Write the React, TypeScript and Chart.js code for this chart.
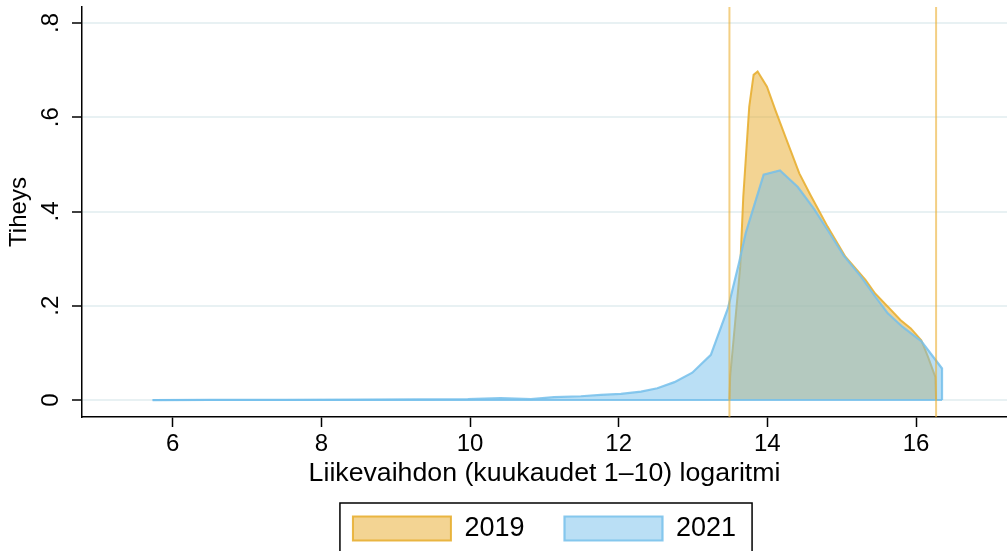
import React, { useEffect, useRef } from 'react';
import { Chart, registerables } from 'chart.js';

Chart.register(...registerables);

// ---- data ----
const SERIES_LABELS = ['2019', '2021'];

const X_2019 = [13.49, 13.5, 13.635, 13.676, 13.756, 13.815, 13.869, 13.995, 14.108, 14.242, 14.43, 14.58, 14.81, 15.05, 15.32, 15.45, 15.64, 15.79, 15.93, 16.07, 16.16, 16.26, 16.27];
const Y_2019 = [0, 0.05, 0.283, 0.431, 0.622, 0.69, 0.697, 0.665, 0.615, 0.559, 0.481, 0.435, 0.368, 0.304, 0.255, 0.226, 0.195, 0.17, 0.152, 0.127, 0.092, 0.049, 0];

const X_2021 = [5.73, 6.5, 7.5, 8.5, 9.3, 9.97, 10.41, 10.82, 11.13, 11.49, 11.76, 12.03, 12.3, 12.52, 12.75, 12.99, 13.24, 13.47, 13.62, 13.71, 13.95, 14.17, 14.41, 14.63, 14.83, 15.03, 15.26, 15.44, 15.62, 15.82, 16.07, 16.35, 16.35];
const Y_2021 = [0, 0.0003, 0.0005, 0.001, 0.0015, 0.002, 0.004, 0.002, 0.006, 0.008, 0.011, 0.013, 0.018, 0.025, 0.038, 0.058, 0.096, 0.195, 0.292, 0.355, 0.478, 0.487, 0.452, 0.405, 0.356, 0.306, 0.262, 0.222, 0.184, 0.155, 0.125, 0.067, 0];

const BASELINE_2021_X = [5.73, 16.35];
const VLINE_X = [13.49, 16.27];

const X_TICKS = [6, 8, 10, 12, 14, 16];
const Y_TICKS = [0, 0.2, 0.4, 0.6, 0.8];
const Y_TICK_LABELS = ['0', '.2', '.4', '.6', '.8'];
const X_MIN = 4.78;
const X_MAX = 17.224;
const Y_MIN = -0.036;
const Y_MAX = 0.834;

const X_TITLE = 'Liikevaihdon (kuukaudet 1–10) logaritmi';
const Y_TITLE = 'Tiheys';

const FONT = '"Liberation Sans", Arial, Helvetica, sans-serif';

const legendBorder = {
  id: 'legendBorder',
  afterDraw(chart: any) {
    const boxes = chart.legend && chart.legend.legendHitBoxes;
    if (!boxes || !boxes.length) return;
    const ctx = chart.ctx;
    const left = Math.min(...boxes.map((b: any) => b.left)) - 13;
    const right = Math.max(...boxes.map((b: any) => b.left + b.width)) + 16;
    const top = Math.min(...boxes.map((b: any) => b.top)) - 12;
    ctx.save();
    ctx.strokeStyle = '#000';
    ctx.lineWidth = 1.5;
    ctx.strokeRect(left, top, right - left, chart.height - top + 10);
    ctx.restore();
  },
};

export default function App() {
  const ref = useRef<HTMLCanvasElement>(null);

  useEffect(() => {
    if (!ref.current) return;
    const vlineData = (x: number) => [
      { x, y: Y_MIN },
      { x, y: Y_MAX },
    ];
    const chart = new Chart(ref.current, {
      type: 'line',
      data: {
        datasets: [
          {
            label: SERIES_LABELS[0],
            data: X_2019.map((x, i) => ({ x, y: Y_2019[i] })),
            borderColor: 'rgba(232,175,50,0.9)',
            backgroundColor: 'rgba(232,170,40,0.5)',
            borderWidth: 2,
            pointRadius: 0,
            tension: 0,
            fill: 'origin',
            order: 3,
          },
          {
            label: SERIES_LABELS[1],
            data: X_2021.map((x, i) => ({ x, y: Y_2021[i] })),
            borderColor: 'rgba(117,192,235,0.85)',
            backgroundColor: 'rgba(117,192,235,0.5)',
            borderWidth: 2.2,
            pointRadius: 0,
            tension: 0,
            fill: 'origin',
            order: 2,
          },
          {
            label: 'base',
            data: BASELINE_2021_X.map((x) => ({ x, y: 0 })),
            borderColor: 'rgba(117,192,235,0.85)',
            borderWidth: 2,
            pointRadius: 0,
            fill: false,
            order: 1,
          },
          ...VLINE_X.map((x) => ({
            label: 'vline',
            data: vlineData(x),
            borderColor: 'rgba(235,175,50,0.6)',
            borderWidth: 2,
            pointRadius: 0,
            fill: false,
            order: 0,
          })),
        ] as any,
      },
      options: {
        animation: false,
        responsive: false,
        maintainAspectRatio: false,
        events: [],
        layout: { padding: { top: 7, left: 0, right: 0, bottom: 0 } },
        plugins: {
          tooltip: { enabled: false },
          legend: {
            position: 'bottom',
            fullSize: false,
            maxHeight: 76,
            labels: {
              color: '#000',
              font: { family: FONT, size: 27 },
              boxWidth: 98,
              boxHeight: 24,
              padding: 40,
              filter: (item: any) => SERIES_LABELS.includes(item.text),
              sort: (a: any, b: any) => a.datasetIndex - b.datasetIndex,
            },
          } as any,
        },
        scales: {
          x: {
            type: 'linear',
            min: X_MIN,
            max: X_MAX,
            afterBuildTicks: (scale: any) => {
              scale.ticks = X_TICKS.map((v) => ({ value: v }));
            },
            afterFit: (scale: any) => {
              scale.height = 58;
              scale.paddingLeft = 0;
              scale.paddingRight = 0;
            },
            ticks: {
              color: '#000',
              font: { family: FONT, size: 24 },
              padding: 3,
              maxRotation: 0,
              minRotation: 0,
              callback: (v: any) => String(v),
            },
            grid: {
              drawOnChartArea: false,
              tickLength: 10,
              tickColor: '#000',
              tickWidth: 1.5,
            },
            border: { color: '#000', width: 1.5 },
            title: {
              display: true,
              text: X_TITLE,
              color: '#000',
              font: { family: FONT, size: 26.7, lineHeight: 1 },
              padding: { top: 0, bottom: -12 },
            },
          },
          y: {
            type: 'linear',
            min: Y_MIN,
            max: Y_MAX,
            afterBuildTicks: (scale: any) => {
              scale.ticks = Y_TICKS.map((v) => ({ value: v }));
            },
            afterFit: (scale: any) => {
              scale.width = 82;
              scale.paddingTop = 0;
              scale.paddingBottom = 0;
            },
            ticks: {
              color: '#000',
              font: { family: FONT, size: 24 },
              padding: 11,
              minRotation: 90,
              maxRotation: 90,
              crossAlign: 'center',
              callback: (v: any) => {
                const idx = Y_TICKS.findIndex((t) => Math.abs(t - v) < 1e-9);
                return idx >= 0 ? Y_TICK_LABELS[idx] : '';
              },
            },
            grid: {
              color: '#E8F1F3',
              lineWidth: 2,
              tickLength: 10,
              tickColor: '#000',
              tickWidth: 1.5,
            },
            border: { color: '#000', width: 1.5 },
            title: {
              display: true,
              text: Y_TITLE,
              color: '#000',
              font: { family: FONT, size: 24, lineHeight: 1 },
              padding: { top: 7, bottom: 0 },
            },
          },
        },
      } as any,
      plugins: [legendBorder],
    });
    return () => chart.destroy();
  }, []);

  return (
    <div style={{ position: 'absolute', left: 0, top: 0, width: 1007, height: 551, background: '#fff' }}>
      <canvas ref={ref} width={1007} height={551} style={{ display: 'block' }} />
    </div>
  );
}
